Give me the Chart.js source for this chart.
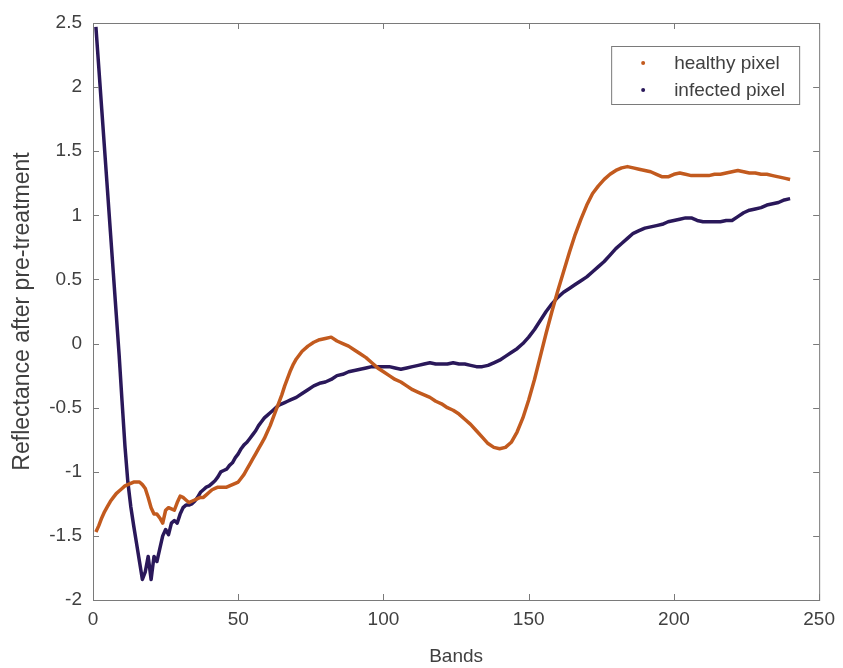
<!DOCTYPE html>
<html>
<head>
<meta charset="utf-8">
<script src="https://cdn.jsdelivr.net/npm/chart.js@4"></script>
<style>
  html, body { margin: 0; padding: 0; background: #fff; }
  #wrap { width: 843px; height: 668px; }
</style>
</head>
<body>
<div id="wrap"><canvas id="myChart" width="843" height="668"></canvas></div>
<script>
// band numbers (x positions)
const bands = [
    1, 2, 3, 4, 5, 6, 7, 8, 9, 10, 11, 12, 13, 14, 15, 16, 17, 18, 19, 20,
    21, 22, 23, 24, 25, 26, 27, 28, 29, 30, 31, 32, 33, 34, 35, 36, 37, 38, 39, 40,
    41, 42, 43, 44, 45, 46, 47, 48, 49, 50, 51, 52, 53, 54, 55, 56, 57, 58, 59, 60,
    61, 62, 63, 64, 65, 66, 67, 68, 69, 70,
    72, 74, 76, 78, 80, 82, 84, 86, 88, 90, 92, 94, 96, 98, 100,
    102, 104, 106, 108, 110, 112, 114, 116, 118, 120, 122, 124, 126, 128, 130,
    132, 134, 136, 138, 140, 142, 144, 146, 148, 150, 152, 154, 156, 158, 160,
    162, 164, 166, 168, 170, 172, 174, 176, 178, 180, 182, 184, 186, 188, 190,
    192, 194, 196, 198, 200, 202, 204, 206, 208, 210, 212, 214, 216, 218, 220,
    222, 224, 226, 228, 230, 232, 234, 236, 238, 240,
]

const healthy = [
    -1.47, -1.42, -1.36, -1.31, -1.27, -1.23, -1.2, -1.17, -1.15, -1.13,
    -1.11, -1.1, -1.09, -1.08, -1.08, -1.08, -1.1, -1.13, -1.2, -1.28,
    -1.33, -1.33, -1.36, -1.4, -1.3, -1.28, -1.29, -1.3, -1.24, -1.19,
    -1.2, -1.22, -1.24, -1.23, -1.22, -1.21, -1.2, -1.2, -1.18, -1.16,
    -1.14, -1.13, -1.12, -1.12, -1.12, -1.12, -1.11, -1.1, -1.09, -1.08,
    -1.05, -1.02, -0.98, -0.94, -0.9, -0.86, -0.82, -0.78, -0.74, -0.69,
    -0.64, -0.58, -0.52, -0.46, -0.4, -0.33, -0.27, -0.21, -0.16, -0.12,
    -0.06, -0.02, 0.01, 0.03, 0.04, 0.05, 0.02, 0.0, -0.02, -0.05,
    -0.08, -0.11, -0.15, -0.19, -0.22,
    -0.25, -0.28, -0.3, -0.33, -0.36, -0.38, -0.4, -0.42, -0.45, -0.47,
    -0.5, -0.52, -0.55, -0.59, -0.63,
    -0.68, -0.73, -0.78, -0.81, -0.82, -0.81, -0.77, -0.69, -0.58, -0.44,
    -0.28, -0.1, 0.08, 0.25, 0.41,
    0.56, 0.71, 0.85, 0.97, 1.08, 1.17, 1.23, 1.28, 1.32, 1.35,
    1.37, 1.38, 1.37, 1.36, 1.35,
    1.34, 1.32, 1.3, 1.3, 1.32, 1.33, 1.32, 1.31, 1.31, 1.31,
    1.31, 1.32, 1.32, 1.33, 1.34,
    1.35, 1.34, 1.33, 1.33, 1.32, 1.32, 1.31, 1.3, 1.29, 1.28,
]

const infected = [
    2.47, 2.15, 1.83, 1.51, 1.19, 0.87, 0.55, 0.23, -0.09, -0.45,
    -0.8, -1.08, -1.27, -1.42, -1.56, -1.7, -1.84, -1.78, -1.66, -1.84,
    -1.66, -1.7, -1.6, -1.5, -1.45, -1.49, -1.4, -1.38, -1.4, -1.33,
    -1.28, -1.26, -1.26, -1.25, -1.23, -1.2, -1.16, -1.14, -1.12, -1.11,
    -1.09, -1.07, -1.04, -1.0, -0.99, -0.98, -0.95, -0.93, -0.89, -0.86,
    -0.82, -0.79, -0.77, -0.74, -0.71, -0.68, -0.64, -0.61, -0.58, -0.56,
    -0.54, -0.52, -0.5, -0.48, -0.47, -0.46, -0.45, -0.44, -0.43, -0.42,
    -0.39, -0.36, -0.33, -0.31, -0.3, -0.28, -0.25, -0.24, -0.22, -0.21,
    -0.2, -0.19, -0.18, -0.18, -0.18,
    -0.18, -0.19, -0.2, -0.19, -0.18, -0.17, -0.16, -0.15, -0.16, -0.16,
    -0.16, -0.15, -0.16, -0.16, -0.17,
    -0.18, -0.18, -0.17, -0.15, -0.13, -0.1, -0.07, -0.04, 0.0, 0.05,
    0.11, 0.18, 0.25, 0.31, 0.36,
    0.4, 0.43, 0.46, 0.49, 0.52, 0.56, 0.6, 0.64, 0.69, 0.74,
    0.78, 0.82, 0.86, 0.88, 0.9,
    0.91, 0.92, 0.93, 0.95, 0.96, 0.97, 0.98, 0.98, 0.96, 0.95,
    0.95, 0.95, 0.95, 0.96, 0.96,
    0.99, 1.02, 1.04, 1.05, 1.06, 1.08, 1.09, 1.1, 1.12, 1.13,
]

const xTicks = [0, 50, 100, 150, 200, 250]
const yTicks = [-2, -1.5, -1, -0.5, 0, 0.5, 1, 1.5, 2, 2.5]

const healthyColor = "#c25a1e"
const infectedColor = "#2a185a"
const axisColor = "#7a7a7a"
const textColor = "#404040"
const fontFamily = "'Liberation Sans', Arial, sans-serif"

const toPoints = (ys) => bands.map((b, i) => ({ x: b, y: ys[i] }))

// box around the axes with inward tick marks on all four sides
const axesBox = {
    id: "axesBox",
    afterDatasetsDraw(chart) {
        const { ctx, chartArea: a, scales } = chart
        const len = 6
        ctx.save()
        ctx.strokeStyle = axisColor
        ctx.lineWidth = 1
        ctx.strokeRect(a.left + 0.5, a.top + 0.5, a.right - a.left, a.bottom - a.top)
        ctx.beginPath()
        xTicks.forEach((v) => {
            const px = Math.round(scales.x.getPixelForValue(v)) + 0.5
            ctx.moveTo(px, a.bottom)
            ctx.lineTo(px, a.bottom - len)
            ctx.moveTo(px, a.top)
            ctx.lineTo(px, a.top + len)
        })
        yTicks.forEach((v) => {
            const py = Math.round(scales.y.getPixelForValue(v)) + 0.5
            ctx.moveTo(a.left, py)
            ctx.lineTo(a.left + len, py)
            ctx.moveTo(a.right, py)
            ctx.lineTo(a.right - len, py)
        })
        ctx.stroke()
        ctx.restore()
    },
}

// legend drawn inside the plot, top right
const insideLegend = {
    id: "insideLegend",
    afterDraw(chart) {
        const { ctx, chartArea: a } = chart
        const right = a.right - 20
        const top = a.top + 23
        const w = 188
        const h = 58
        ctx.save()
        ctx.fillStyle = "#fff"
        ctx.fillRect(right - w, top, w, h)
        ctx.strokeStyle = axisColor
        ctx.lineWidth = 1
        ctx.strokeRect(right - w + 0.5, top + 0.5, w, h)
        ctx.font = "19px " + fontFamily
        ctx.textBaseline = "middle"
        chart.data.datasets.forEach((ds, i) => {
            const y = top + 17 + i * 27
            ctx.fillStyle = ds.borderColor
            ctx.beginPath()
            ctx.arc(right - w + 32, y, 2, 0, Math.PI * 2)
            ctx.fill()
            ctx.fillStyle = textColor
            ctx.fillText(ds.label, right - w + 63, y + 1)
        })
        ctx.restore()
    },
}

const ctx = document.getElementById("myChart").getContext("2d")

new Chart(ctx, {
    type: "line",
    data: {
        datasets: [
            {
                label: "healthy pixel",
                data: toPoints(healthy),
                borderColor: healthyColor,
                borderWidth: 3.5,
                borderJoinStyle: "round",
                pointRadius: 0,
                tension: 0,
            },
            {
                label: "infected pixel",
                data: toPoints(infected),
                borderColor: infectedColor,
                borderWidth: 3.5,
                borderJoinStyle: "round",
                pointRadius: 0,
                tension: 0,
            },
        ],
    },
    options: {
        responsive: false,
        animation: false,
        events: [],
        layout: { padding: { left: 0, top: 23, right: 23, bottom: 0 } },
        scales: {
            x: {
                type: "linear",
                min: 0,
                max: 250,
                afterBuildTicks: (s) => {
                    s.ticks = xTicks.map((v) => ({ value: v }))
                },
                afterFit: (s) => {
                    s.height = 68
                },
                grid: { display: false, tickLength: 0 },
                border: { display: false },
                ticks: {
                    color: textColor,
                    padding: 8,
                    maxRotation: 0,
                    font: { family: fontFamily, size: 19 },
                    callback: (v) => String(v),
                },
                title: {
                    display: true,
                    text: "Bands",
                    color: textColor,
                    padding: { top: 0, bottom: 0 },
                    font: { family: fontFamily, size: 19 },
                },
            },
            y: {
                min: -2,
                max: 2.5,
                afterBuildTicks: (s) => {
                    s.ticks = yTicks.map((v) => ({ value: v }))
                },
                afterFit: (s) => {
                    s.width = 93
                },
                grid: { display: false, tickLength: 0 },
                border: { display: false },
                ticks: {
                    color: textColor,
                    padding: 11,
                    font: { family: fontFamily, size: 19 },
                    callback: (v) => String(v),
                },
                title: {
                    display: true,
                    text: "Reflectance after pre-treatment",
                    color: textColor,
                    padding: { top: 9, bottom: 0 },
                    font: { family: fontFamily, size: 23 },
                },
            },
        },
        plugins: {
            legend: { display: false },
            tooltip: { enabled: false },
        },
    },
    plugins: [axesBox, insideLegend],
})
</script>
</body>
</html>
